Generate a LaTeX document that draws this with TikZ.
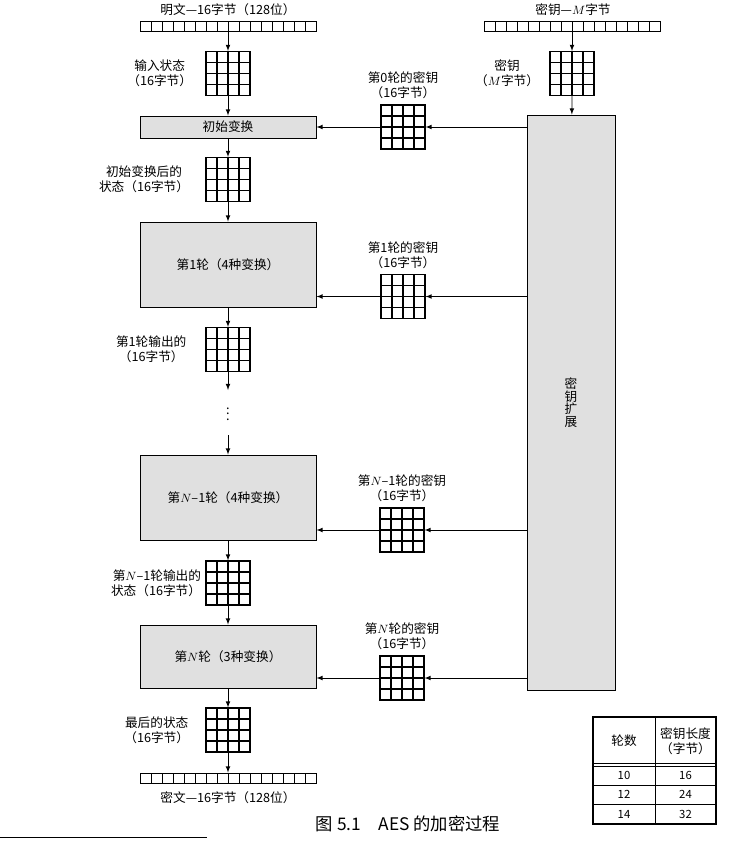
\documentclass[tikz,border=0pt]{standalone}
\usepackage{fontspec}
\setmainfont{Noto Sans CJK SC}
\usetikzlibrary{%
  arrows,%
  positioning%
}
\tikzset{>=latex}
\tikzset{
  state/.style={draw, line width=0.8pt, minimum size=33pt, inner sep=0pt,
    path picture={
      \foreach \k in {1,2,3} {
        \draw[line width=0.8pt] ([xshift=\k*8.25pt]path picture bounding box.south west)
          -- ([xshift=\k*8.25pt]path picture bounding box.north west);
        \draw[line width=0.8pt] ([yshift=\k*8.25pt]path picture bounding box.south west)
          -- ([yshift=\k*8.25pt]path picture bounding box.south east);
      }}},
  bytes/.style={draw, line width=0.7pt, minimum width=132pt, minimum height=7.5pt, inner sep=0pt,
    path picture={
      \foreach \k in {1,...,15}
        \draw[line width=0.7pt] ([xshift=\k*8.25pt]path picture bounding box.south west)
          -- ([xshift=\k*8.25pt]path picture bounding box.north west);}},
  stage/.style={draw, line width=0.7pt, fill=black!12, minimum width=132pt, inner sep=0pt},
  lbl/.style={inner sep=1pt, align=center},
}

\begin{document}
\begin{tikzpicture}[x=0.75pt,y=-0.75pt,line width=0.6pt,font=\fontsize{9.5}{11}\selectfont]
    \useasboundingbox (0,0) rectangle (735,841);
    % data path
    \node[bytes] (pt) at (228,26) {};
    \node (ptlabel) at (228,10) {明文—16字节（128位）};
    \node[state] (s0) at (228,73.5) {};
    \node[lbl, left=8.75pt of s0] (s0label) {输入状态\\（16字节）};
    \node[stage, minimum height=16.5pt] (init) at (228,127) {初始变换};
    \node[state] (s1) at (228,179.5) {};
    \node[lbl, left=11pt of s1] (s1label) {初始变换后的\\状态（16字节）};
    \node[stage, minimum height=63.75pt] (r1) at (228,264.5) {第1轮（4种变换）};
    \node[state] (m1) at (228,349.5) {};
    \node[lbl, left=13pt of m1] (m1label) {第1轮输出的\\（16字节）};
    \coordinate (d1) at (228,390);
    \node (dots) at (228,410) {$\vdots$};
    \coordinate (d2) at (228,435);
    \node[stage, minimum height=63.75pt] (rN1) at (228,497.5) {第$N$–1轮（4种变换）};
    \node[state] (mN1) at (228,583) {};
    \node[lbl, align=right, left=2pt of mN1] (mN1label) {第$N$–1轮输出的\\状态（16字节）};
    \node[stage, minimum height=47.25pt] (rN) at (228,656.5) {第$N$轮（3种变换）};
    \node[state] (sf) at (228,730) {};
    \node[lbl, left=11pt of sf] (sflabel) {最后的状态\\（16字节）};
    \node[bytes] (ct) at (228,778) {};
    \node (ctlabel) at (228,798) {密文—16字节（128位）};

    % key path
    \node[bytes] (kt) at (572,26) {};
    \node (ktlabel) at (573,10) {密钥—$M$字节};
    \node[state] (km) at (572,73.5) {};
    \node[lbl, left=6.5pt of km] (kmlabel) {密钥\\（$M$字节）};
    \node[stage, minimum width=66pt, minimum height=431.25pt, align=center,
      font=\fontsize{9.5}{9.5}\selectfont] (kx) at (571,402.5) {密\\钥\\扩\\展};
    \node[state] (k0) at (403,127) {};
    \node[lbl, above=3pt of k0] (k0label) {第0轮的密钥\\（16字节）};
    \node[state] (k1) at (403,296.5) {};
    \node[lbl, above=3pt of k1] (k1label) {第1轮的密钥\\（16字节）};
    \node[state] (kN1) at (402,530) {};
    \node[lbl, above=3pt of kN1] (kN1label) {第$N$–1轮的密钥\\（16字节）};
    \node[state] (kN) at (402,678) {};
    \node[lbl, above=3pt of kN] (kNlabel) {第$N$轮的密钥\\（16字节）};

    % arrows
    \draw[->] (pt) -- (s0);
    \draw[->] (s0) -- (init);
    \draw[->] (init) -- (s1);
    \draw[->] (s1) -- (r1);
    \draw[->] (r1) -- (m1);
    \draw[->] (m1) -- (d1);
    \draw[->] (d2) -- (rN1);
    \draw[->] (rN1) -- (mN1);
    \draw[->] (mN1) -- (rN);
    \draw[->] (rN) -- (sf);
    \draw[->] (sf) -- (ct);
    \draw[->] (kt) -- (km);
    \draw[->] (km) -- (kx);
    \foreach \k/\r in {k0/init,k1/r1,kN1/rN1,kN/rN} {
      \draw[->] (kx.west |- \k) -- (\k);
      \draw[->] (\k) -- (\r.east |- \k);
    }

    % table
    \draw[line width=0.8pt] (593,717) rectangle (716,824);
    \draw (655,717) -- (655,824);
    \draw (593,763) -- (716,763);
    \draw (593,766) -- (716,766);
    \draw (593,785) -- (716,785);
    \draw (593,804) -- (716,804);
    \node (th1) at (624,741) {轮数};
    \node[align=center] (th2) at (685.5,741) {密钥长度\\（字节）};
    \foreach \n/\y/\a/\b in {a/775.5/10/16,b/794.5/12/24,c/814/14/32} {
      \node[font=\fontsize{8.5}{10}\selectfont] (tl\n) at (624,\y) {\a};
      \node[font=\fontsize{8.5}{10}\selectfont] (tr\n) at (685.5,\y) {\b};
    }

    % caption
    \node[font=\fontsize{13}{15}\selectfont] (caption) at (408,824) {图 5.1\quad AES 的加密过程};
    \draw (0,837) -- (207,837);
  \end{tikzpicture}
\end{document}
